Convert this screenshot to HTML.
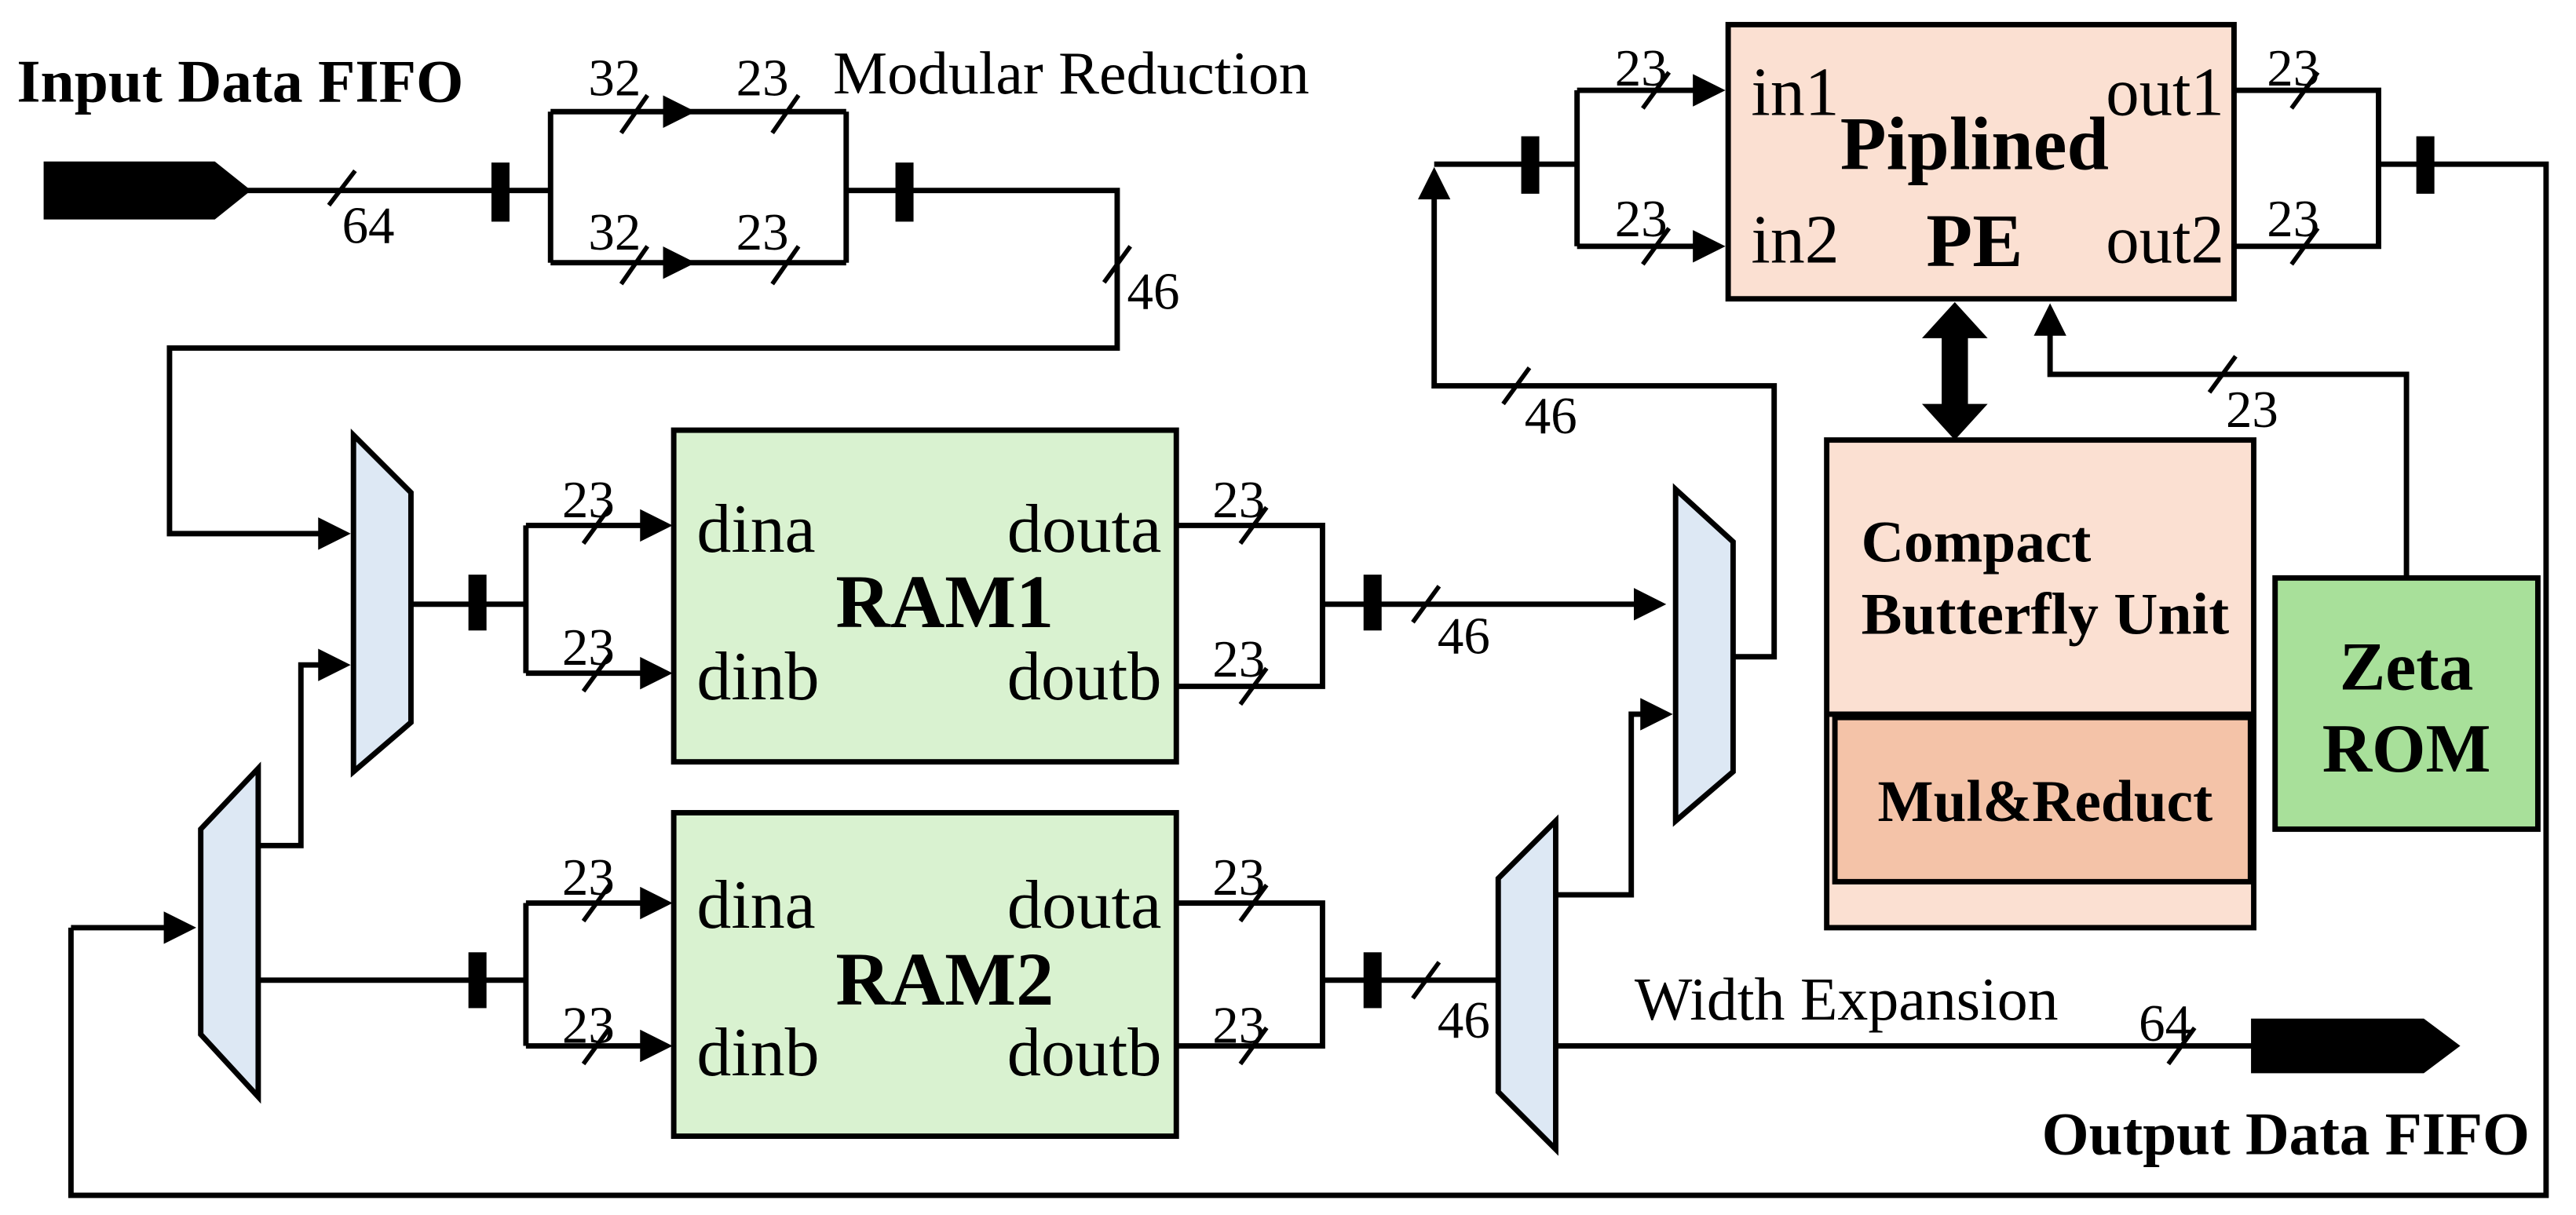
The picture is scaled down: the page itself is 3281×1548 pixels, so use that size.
<!DOCTYPE html>
<html><head><meta charset="utf-8"><style>
html,body{margin:0;padding:0;background:#fff;}
svg{display:block;}
text{font-family:"Liberation Serif",serif;fill:#000;}
.b{font-weight:bold;}
</style></head><body>
<svg width="3281" height="1548" viewBox="0 0 1568 740" xmlns="http://www.w3.org/2000/svg">
<defs>
<marker id="a" markerWidth="6" markerHeight="6" refX="5" refY="3" orient="auto" markerUnits="strokeWidth">
<path d="M0,0 L6,3 L0,6 z" fill="#000"/></marker>
</defs>
<g stroke="#000" stroke-width="3.3" fill="none">
<polygon points="28,100 130,100 150,116 130,132 28,132" fill="#000"/>
<line x1="150" y1="116" x2="335" y2="116"/>
<line x1="335" y1="68" x2="335" y2="160"/>
<line x1="335" y1="68" x2="420" y2="68" marker-end="url(#a)"/>
<line x1="420" y1="68" x2="515" y2="68"/>
<line x1="335" y1="160" x2="420" y2="160" marker-end="url(#a)"/>
<line x1="420" y1="160" x2="515" y2="160"/>
<line x1="515" y1="68" x2="515" y2="160"/>
<polyline points="515,116 680,116 680,212 103,212 103,325 210,325" marker-end="url(#a)"/>
<polygon points="215,265 250,300 250,440 215,470" fill="#dde8f4"/>
<line x1="250" y1="368" x2="320" y2="368"/>
<line x1="320" y1="320" x2="320" y2="410"/>
<line x1="320" y1="320" x2="406" y2="320" marker-end="url(#a)"/>
<line x1="320" y1="410" x2="406" y2="410" marker-end="url(#a)"/>
<rect x="410" y="262" width="306" height="202" fill="#d9f2d0"/>
<polyline points="716,320 805,320 805,418 716,418"/>
<line x1="805" y1="368" x2="1011" y2="368" marker-end="url(#a)"/>
<polygon points="122,505 157,468 157,668 122,630" fill="#dde8f4"/>
<polyline points="43,565 43,728 1550,728 1550,100 1448,100"/>
<line x1="43" y1="565" x2="116" y2="565" marker-end="url(#a)"/>
<polyline points="157,515 183,515 183,405 210,405" marker-end="url(#a)"/>
<line x1="157" y1="597" x2="320" y2="597"/>
<line x1="320" y1="550" x2="320" y2="637"/>
<line x1="320" y1="550" x2="406" y2="550" marker-end="url(#a)"/>
<line x1="320" y1="637" x2="406" y2="637" marker-end="url(#a)"/>
<rect x="410" y="495" width="306" height="197" fill="#d9f2d0"/>
<polyline points="716,550 805,550 805,637 716,637"/>
<line x1="805" y1="597" x2="912" y2="597"/>
<polygon points="912,535 947,500 947,700 912,665" fill="#dde8f4"/>
<polyline points="947,545 993,545 993,435 1015,435" marker-end="url(#a)"/>
<line x1="947" y1="637" x2="1372" y2="637"/>
<polygon points="1372,622 1475,622 1495,637 1475,652 1372,652" fill="#000"/>
<polygon points="1020,298 1055,330 1055,470 1020,500" fill="#dde8f4"/>
<polyline points="1055,400 1080,400 1080,235 873,235 873,105" marker-end="url(#a)"/>
<line x1="873" y1="100" x2="960" y2="100"/>
<line x1="960" y1="55" x2="960" y2="150"/>
<line x1="960" y1="55" x2="1047" y2="55" marker-end="url(#a)"/>
<line x1="960" y1="150" x2="1047" y2="150" marker-end="url(#a)"/>
<rect x="1052" y="15" width="308" height="167" fill="#fbe0d2"/>
<polyline points="1360,55 1448,55 1448,150 1360,150"/>
<rect x="1112" y="268" width="260" height="297" fill="#fbe0d2"/>
<line x1="1112" y1="435" x2="1372" y2="435"/>
<rect x="1117" y="437" width="253" height="100" fill="#f4c3a8"/>
<rect x="1385" y="352" width="160" height="153" fill="#a8e09a"/>
<polyline points="1465,352 1465,228 1248,228 1248,188" marker-end="url(#a)"/>
<g stroke-width="2.7">
<line x1="200" y1="125" x2="216" y2="104"/>
<line x1="378" y1="81" x2="394" y2="58"/><line x1="470" y1="81" x2="486" y2="58"/>
<line x1="378" y1="173" x2="394" y2="150"/><line x1="470" y1="173" x2="486" y2="150"/>
<line x1="672" y1="172" x2="688" y2="150"/>
<line x1="355" y1="331" x2="371" y2="309"/><line x1="355" y1="421" x2="371" y2="399"/>
<line x1="755" y1="331" x2="771" y2="309"/><line x1="755" y1="429" x2="771" y2="407"/>
<line x1="860" y1="379" x2="876" y2="357"/>
<line x1="355" y1="561" x2="371" y2="539"/><line x1="355" y1="648" x2="371" y2="626"/>
<line x1="755" y1="561" x2="771" y2="539"/><line x1="755" y1="648" x2="771" y2="626"/>
<line x1="860" y1="608" x2="876" y2="586"/>
<line x1="1000" y1="66" x2="1016" y2="44"/><line x1="1000" y1="161" x2="1016" y2="139"/>
<line x1="1395" y1="66" x2="1411" y2="44"/><line x1="1395" y1="161" x2="1411" y2="139"/>
<line x1="915" y1="246" x2="931" y2="224"/>
<line x1="1345" y1="239" x2="1361" y2="217"/>
<line x1="1320" y1="648" x2="1336" y2="626"/>
</g>
</g>
<g fill="#000">
<rect x="299" y="99" width="11" height="36"/>
<rect x="545" y="99" width="11" height="36"/>
<rect x="285" y="350" width="11" height="34"/>
<rect x="830" y="350" width="11" height="34"/>
<rect x="285" y="580" width="11" height="34"/>
<rect x="830" y="580" width="11" height="34"/>
<rect x="926" y="83" width="11" height="35"/>
<rect x="1471" y="83" width="11" height="35"/>
<polygon points="1190,184 1210,206 1198,206 1198,246 1210,246 1190,268 1170,246 1182,246 1182,206 1170,206"/>
</g>
<g font-size="32">
<text x="10" y="62" class="b" font-size="37" textLength="272" lengthAdjust="spacingAndGlyphs">Input Data FIFO</text>
<text x="507" y="57" font-size="37" textLength="290" lengthAdjust="spacingAndGlyphs">Modular Reduction</text>
<text x="208" y="148">64</text>
<text x="358" y="58">32</text><text x="448" y="58">23</text>
<text x="358" y="152">32</text><text x="448" y="152">23</text>
<text x="686" y="188">46</text>
<text x="342" y="315">23</text><text x="342" y="405">23</text>
<text x="738" y="315">23</text><text x="738" y="412">23</text>
<text x="875" y="398">46</text>
<text x="342" y="545">23</text><text x="342" y="635">23</text>
<text x="738" y="545">23</text><text x="738" y="635">23</text>
<text x="875" y="632">46</text>
<text x="983" y="52">23</text><text x="983" y="144">23</text>
<text x="1380" y="52">23</text><text x="1380" y="144">23</text>
<text x="928" y="264">46</text>
<text x="1355" y="260">23</text>
<text x="1302" y="634">64</text>
<text x="995" y="621" font-size="37" textLength="258" lengthAdjust="spacingAndGlyphs">Width Expansion</text>
<g font-size="42">
<text x="424" y="336">dina</text><text x="424" y="426">dinb</text>
<text x="613" y="336" textLength="94" lengthAdjust="spacingAndGlyphs">douta</text><text x="613" y="426" textLength="94" lengthAdjust="spacingAndGlyphs">doutb</text>
<text x="424" y="565">dina</text><text x="424" y="655">dinb</text>
<text x="613" y="565" textLength="94" lengthAdjust="spacingAndGlyphs">douta</text><text x="613" y="655" textLength="94" lengthAdjust="spacingAndGlyphs">doutb</text>
<text x="1066" y="70">in1</text><text x="1066" y="160">in2</text>
<text x="1282" y="70" textLength="72" lengthAdjust="spacingAndGlyphs">out1</text><text x="1282" y="160" textLength="72" lengthAdjust="spacingAndGlyphs">out2</text>
</g>
<text x="575" y="382" class="b" font-size="46" text-anchor="middle">RAM1</text>
<text x="575" y="612" class="b" font-size="46" text-anchor="middle">RAM2</text>
<text x="1202" y="103" class="b" font-size="46" text-anchor="middle">Piplined</text>
<text x="1202" y="162" class="b" font-size="46" text-anchor="middle">PE</text>
<text x="1133" y="342" class="b" font-size="36">Compact</text>
<text x="1133" y="386" class="b" font-size="36" textLength="224" lengthAdjust="spacingAndGlyphs">Butterfly Unit</text>
<text x="1245" y="500" class="b" font-size="36" text-anchor="middle">Mul&amp;Reduct</text>
<text x="1465" y="420" class="b" font-size="42" text-anchor="middle">Zeta</text>
<text x="1465" y="470" class="b" font-size="42" text-anchor="middle">ROM</text>
<text x="1243" y="703" class="b" font-size="37" textLength="297" lengthAdjust="spacingAndGlyphs">Output Data FIFO</text>
</g>
</svg>
</body></html>
